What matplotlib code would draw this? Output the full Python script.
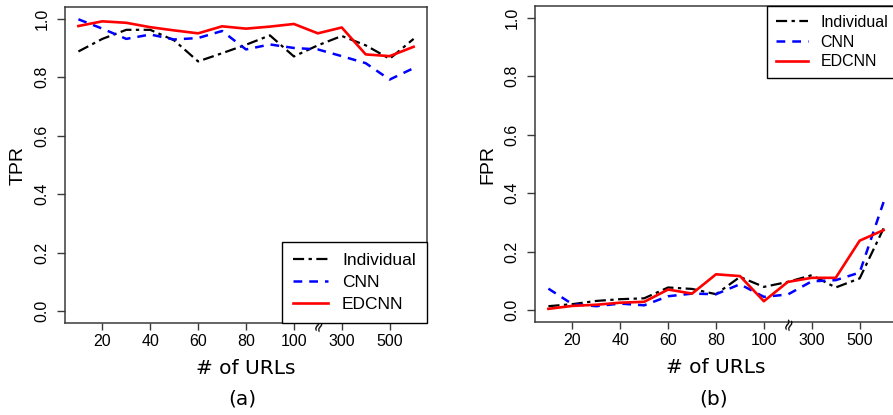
import numpy as np
import matplotlib
matplotlib.use("Agg")
import matplotlib.pyplot as plt

# --- данни ---
x_idx = np.arange(1, 16)                 # 10, 20, ..., 100, 200, ..., 600
tick_pos = [2, 4, 6, 8, 10, 12, 14]
tick_labels = ["20", "40", "60", "80", "100", "300", "500"]

tpr_individual = [0.888, 0.931, 0.962, 0.962, 0.926, 0.854, 0.882, 0.911,
                  0.943, 0.871, 0.909, 0.941, 0.909, 0.863, 0.931]
tpr_cnn = [0.998, 0.966, 0.931, 0.946, 0.929, 0.934, 0.958, 0.895,
           0.912, 0.900, 0.895, 0.872, 0.848, 0.792, 0.831]
tpr_edcnn = [0.975, 0.991, 0.986, 0.971, 0.960, 0.950, 0.974, 0.966,
             0.973, 0.982, 0.950, 0.970, 0.878, 0.872, 0.904]

fpr_individual = [0.014, 0.021, 0.032, 0.038, 0.041, 0.078, 0.073, 0.055,
                  0.114, 0.080, 0.097, 0.120, 0.078, 0.109, 0.280]
fpr_cnn = [0.074, 0.021, 0.014, 0.023, 0.017, 0.048, 0.057, 0.055,
           0.089, 0.046, 0.054, 0.099, 0.103, 0.129, 0.370]
fpr_edcnn = [0.005, 0.015, 0.019, 0.026, 0.029, 0.071, 0.057, 0.123,
             0.117, 0.031, 0.097, 0.111, 0.111, 0.238, 0.274]

sans = "Liberation Sans"
spine_col = "#3a3a3a"

fig = plt.figure(figsize=(8.93, 4.15), dpi=100)
ax_a = fig.add_axes([65 / 893, 92 / 415, 362 / 893, 316 / 415])
ax_b = fig.add_axes([535 / 893, 93 / 415, 362 / 893, 316 / 415])


def draw_panel(ax, ind, cnn, ed, ylabel):
    ax.plot(x_idx, ind, color="black", lw=1.6, dashes=(5, 2, 1.5, 2), label="Individual")
    ax.plot(x_idx, cnn, color="#0000ff", lw=1.8, dashes=(3.5, 2.8), label="CNN")
    ax.plot(x_idx, ed, color="#ff0000", lw=1.9, label="EDCNN")
    ax.set_xlim(0.44, 15.56)
    ax.set_ylim(-0.04, 1.04)
    ax.set_xticks(tick_pos)
    ax.set_xticklabels(tick_labels)
    ax.set_yticks([0.0, 0.2, 0.4, 0.6, 0.8, 1.0])
    ax.set_yticklabels(["0.0", "0.2", "0.4", "0.6", "0.8", "1.0"],
                       rotation=90, va="center")
    for lbl in ax.get_xticklabels() + ax.get_yticklabels():
        lbl.set_fontfamily(sans)
        lbl.set_fontsize(11.5)
    ax.tick_params(direction="out", length=5, width=1, color=spine_col, pad=3)
    ax.tick_params(axis="y", length=6, pad=5)
    for s in ax.spines.values():
        s.set_color(spine_col)
        s.set_linewidth(1.1)
    ax.set_ylabel(ylabel, fontfamily=sans, fontsize=14, labelpad=6)
    ax.set_xlabel("# of URLs", fontfamily="DejaVu Sans", fontsize=14.5, labelpad=7)
    # знак за прекъснатата ос между 100 и 300
    ax.text(11, -0.045, "≈", transform=ax.transData, rotation=70,
            ha="center", va="center", fontsize=12, fontfamily="DejaVu Sans",
            clip_on=False)


draw_panel(ax_a, tpr_individual, tpr_cnn, tpr_edcnn, "TPR")
draw_panel(ax_b, fpr_individual, fpr_cnn, fpr_edcnn, "FPR")

leg_a = ax_a.legend(loc="lower right", bbox_to_anchor=(1.0, 0.0), borderaxespad=0,
                    fancybox=False, edgecolor="black", framealpha=1,
                    prop={"family": sans, "size": 12.5}, handlelength=2.0,
                    handletextpad=0.8, labelspacing=0.38, borderpad=0.65)
leg_a.get_frame().set_linewidth(1.0)

leg_b = ax_b.legend(loc="upper right", bbox_to_anchor=(1.0, 1.0), borderaxespad=0,
                    fancybox=False, edgecolor="black", framealpha=1,
                    prop={"family": sans, "size": 11.5}, handlelength=2.0,
                    handletextpad=0.8, labelspacing=0.3, borderpad=0.55)
leg_b.get_frame().set_linewidth(1.0)

fig.text(242 / 893, 1 - 399 / 415, "(a)", ha="center", va="center",
         fontfamily="DejaVu Sans", fontsize=14.5)
fig.text(714 / 893, 1 - 399 / 415, "(b)", ha="center", va="center",
         fontfamily="DejaVu Sans", fontsize=14.5)

fig.savefig("out.png", dpi=100)
